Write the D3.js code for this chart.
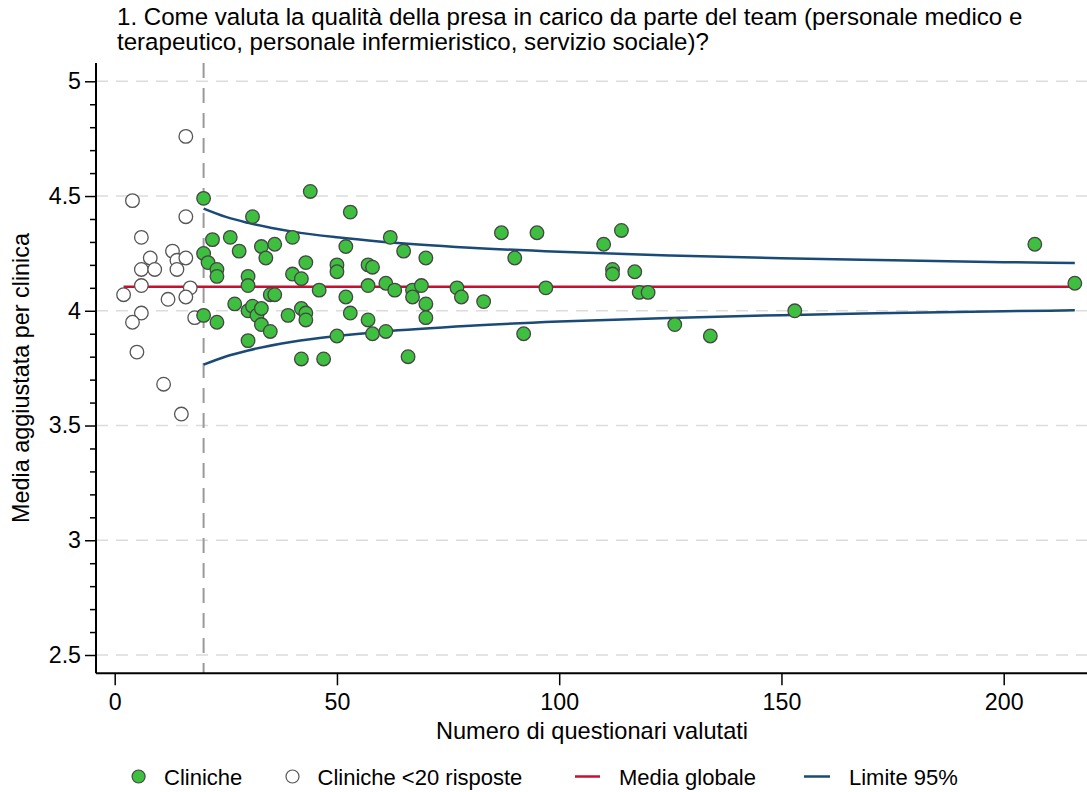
<!DOCTYPE html>
<html><head><meta charset="utf-8">
<script src="https://cdn.jsdelivr.net/npm/d3@7"></script>
<style>body{margin:0;background:#fff;} svg{display:block;font-family:"Liberation Sans",Arial,sans-serif;}</style>
</head><body>
<svg id="c" width="1087" height="792"></svg>
<script>
// Clinics with >= 20 responses: [n, adjusted mean]
const clinicsN = [20,44,53,31,22,26,40,28,33,36,34,52,20,21,23,23,43,50,50,57,58,40,42,30,30,46,57,35,36,52,27,30,31,32,33,39,42,43,43,53,57,20,23,33,35,50,58,30,42,47,
 62,65,70,87,95,90,61,63,67,67,69,77,78,97,70,70,83,61,92,66,
 110,114,112,112,117,118,120,126,134,153,207,216];
const clinicsMean = [4.49,4.52,4.43,4.41,4.31,4.32,4.32,4.26,4.28,4.29,4.23,4.28,4.25,4.21,4.18,4.15,4.21,4.20,4.17,4.20,4.19,4.16,4.14,4.15,4.11,4.09,4.11,4.07,4.07,4.06,4.03,4.00,4.02,3.98,4.01,3.98,4.01,3.99,3.96,3.99,3.96,3.98,3.95,3.94,3.91,3.89,3.90,3.87,3.79,3.79,
 4.32,4.26,4.23,4.34,4.34,4.23,4.12,4.09,4.09,4.06,4.11,4.10,4.06,4.10,4.03,3.97,4.04,3.91,3.90,3.80,
 4.29,4.35,4.18,4.16,4.17,4.08,4.08,3.94,3.89,4.00,4.29,4.12];
// Clinics with < 20 responses
const smallN = [16,4,16,6,13,8,14,16,6,9,14,6,17,2,12,16,6,4,18,5,11,15];
const smallMean = [4.76,4.48,4.41,4.32,4.26,4.23,4.22,4.23,4.18,4.18,4.18,4.11,4.10,4.07,4.05,4.06,3.99,3.95,3.97,3.82,3.68,3.55];
// Global mean line
const meanRange = [2, 216];
const globalMean = 4.105;
// 95% limits read at these n
const limitN = [20,25,30,40,50,60,80,100,125,150,175,200,216];
const upperLimit = [4.445,4.409,4.383,4.345,4.320,4.301,4.275,4.257,4.241,4.229,4.220,4.212,4.208];
const lowerLimit = [3.765,3.801,3.827,3.865,3.890,3.909,3.935,3.953,3.969,3.981,3.990,3.998,4.002];
const xTicks = [0,50,100,150,200];
const yTicks = [2.5,3,3.5,4,4.5,5];
const cutoff = 20;
const titleLines = ["1. Come valuta la qualità della presa in carico da parte del team (personale medico e","terapeutico, personale infermieristico, servizio sociale)?"];
const legendItems = ["Cliniche","Cliniche <20 risposte","Media globale","Limite 95%"];

const svg = d3.select("#c");
const x = d3.scaleLinear().domain([0,200]).range([114.7,1003.7]);
const y = d3.scaleLinear().domain([2.5,5]).range([655,81.3]);
const L = 96, R = 1087, T = 63, B = 673.3;
const green = "#3fbf3f", red = "#c8102e", blue = "#1a4a78";
const fs = 22, tfs = 23.2;

// grid
svg.append("g").selectAll("line").data(yTicks).join("line")
  .attr("x1",L).attr("x2",R).attr("y1",d=>y(d)).attr("y2",d=>y(d))
  .attr("stroke","#dcdcdc").attr("stroke-width",1.5).attr("stroke-dasharray","12,8");
// cutoff line
svg.append("line").attr("x1",x(cutoff)).attr("x2",x(cutoff)).attr("y1",T).attr("y2",B)
  .attr("stroke","#9a9a9a").attr("stroke-width",2).attr("stroke-dasharray","15,10");

// y axis
const yMinor = d3.range(25,51).map(d=>d/10).filter(d=>!yTicks.some(t=>Math.abs(t-d)<1e-9));
const ya = svg.append("g").attr("transform",`translate(${L},0)`)
  .call(d3.axisLeft(y).tickValues(yTicks).tickSize(11).tickPadding(4).tickFormat(d3.format("")));
ya.select(".domain").remove();
ya.selectAll("text").attr("font-size",tfs).attr("fill","#000").attr("font-family","Liberation Sans, Arial");
ya.selectAll("line").attr("stroke","#000").attr("stroke-width",1.5);
const ym = svg.append("g").attr("transform",`translate(${L},0)`)
  .call(d3.axisLeft(y).tickValues(yMinor).tickSize(6).tickFormat(""));
ym.select(".domain").remove();
ym.selectAll("line").attr("stroke","#000").attr("stroke-width",1.5);
svg.append("line").attr("x1",L).attr("x2",L).attr("y1",T).attr("y2",B).attr("stroke","#000").attr("stroke-width",2);

// x axis
const xa = svg.append("g").attr("transform",`translate(0,${B})`)
  .call(d3.axisBottom(x).tickValues(xTicks).tickSize(12).tickPadding(8));
xa.select(".domain").remove();
xa.selectAll("text").attr("font-size",tfs).attr("fill","#000").attr("font-family","Liberation Sans, Arial");
xa.selectAll("line").attr("stroke","#000").attr("stroke-width",1.5);
svg.append("line").attr("x1",L).attr("x2",R).attr("y1",B).attr("y2",B).attr("stroke","#000").attr("stroke-width",2);

// limit lines
const line = d3.line().x(d=>x(d[0])).y(d=>y(d[1])).curve(d3.curveMonotoneX);
svg.append("path").attr("d",line(limitN.map((n,i)=>[n,upperLimit[i]]))).attr("fill","none").attr("stroke",blue).attr("stroke-width",2.5);
svg.append("path").attr("d",line(limitN.map((n,i)=>[n,lowerLimit[i]]))).attr("fill","none").attr("stroke",blue).attr("stroke-width",2.5);
// mean line
svg.append("line").attr("x1",x(meanRange[0])).attr("x2",x(meanRange[1])).attr("y1",y(globalMean)).attr("y2",y(globalMean))
  .attr("stroke",red).attr("stroke-width",2.5);

// points
svg.append("g").selectAll("circle").data(smallN.map((n,i)=>[n,smallMean[i]])).join("circle")
  .attr("cx",d=>x(d[0])).attr("cy",d=>y(d[1])).attr("r",6.8)
  .attr("fill","#fff").attr("stroke","#555").attr("stroke-width",1.3);
svg.append("g").selectAll("circle").data(clinicsN.map((n,i)=>[n,clinicsMean[i]])).join("circle")
  .attr("cx",d=>x(d[0])).attr("cy",d=>y(d[1])).attr("r",6.8)
  .attr("fill",green).attr("stroke","#454545").attr("stroke-width",1.3);

// title
svg.append("g").selectAll("text").data(titleLines).join("text")
  .attr("x",117).attr("y",(d,i)=>24.5+i*25).attr("font-size",24.1).text(d=>d);
// axis titles
svg.append("text").attr("x",592).attr("y",739).attr("text-anchor","middle").attr("font-size",23.6).text("Numero di questionari valutati");
svg.append("text").attr("transform","translate(29,378) rotate(-90)").attr("text-anchor","middle").attr("font-size",23.4).text("Media aggiustata per clinica");

// legend
const lg = svg.append("g");
lg.append("circle").attr("cx",138.6).attr("cy",776.5).attr("r",6.5).attr("fill",green).attr("stroke","#454545").attr("stroke-width",1.2);
lg.append("circle").attr("cx",292.5).attr("cy",776.5).attr("r",6.5).attr("fill","#fff").attr("stroke","#555").attr("stroke-width",1.2);
lg.append("line").attr("x1",575).attr("x2",600).attr("y1",776.5).attr("y2",776.5).attr("stroke",red).attr("stroke-width",2.5);
lg.append("line").attr("x1",804).attr("x2",830).attr("y1",776.5).attr("y2",776.5).attr("stroke",blue).attr("stroke-width",2.5);
const lx = [164,317.5,619,849];
lg.selectAll("text").data(legendItems).join("text").attr("x",(d,i)=>lx[i]).attr("y",784.5).attr("font-size",fs).text(d=>d);
</script>
</body></html>
